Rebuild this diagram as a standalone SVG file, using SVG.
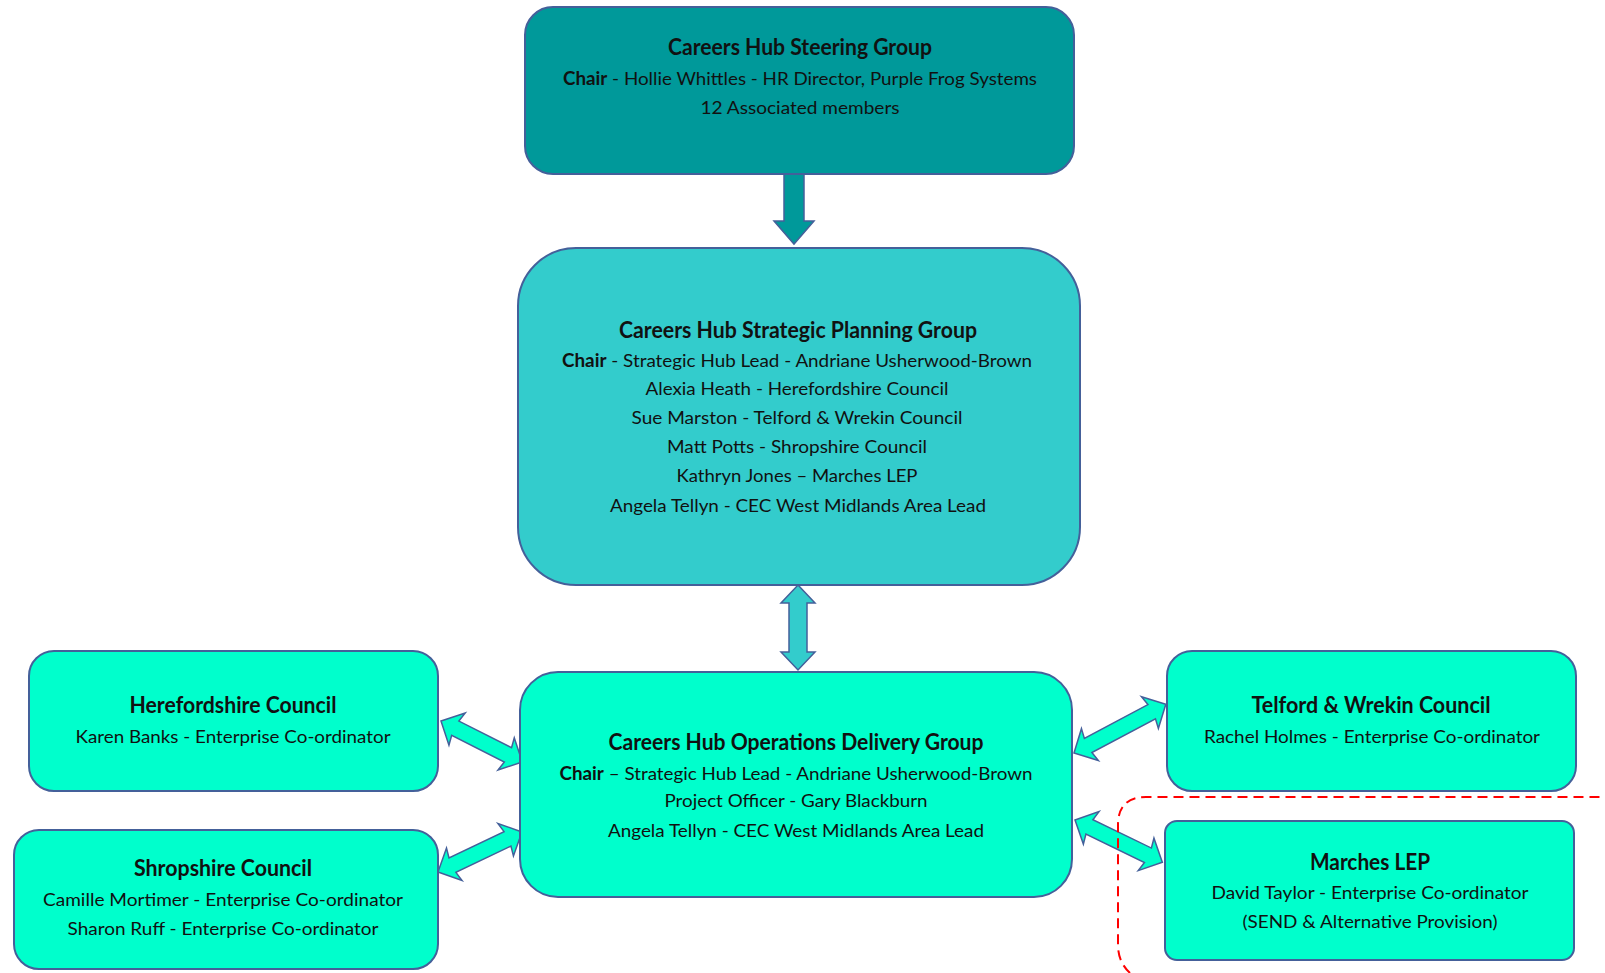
<svg xmlns="http://www.w3.org/2000/svg" width="1605" height="973" viewBox="0 0 1605 973">
<style>
.box{stroke:#44609A;stroke-width:2}
.dark{fill:#00999A}
.mid{fill:#33CCCC}
.light{fill:#00FFCC}
.t{font-family:Lato,"Liberation Sans",sans-serif;font-weight:bold;font-size:23px;fill:#111;text-anchor:middle}
.s{font-family:Lato,"Liberation Sans",sans-serif;font-size:18px;fill:#111;text-anchor:middle}
.b{font-weight:bold}
.arr{stroke:#44609A;stroke-width:1.5;stroke-linejoin:miter}
</style>
<rect width="1605" height="973" fill="#ffffff"/>
<g id="connectors">
<polygon class="arr dark" points="784,174 804,174 804,221 814,221 794,244 774,221 784,221"/>
<polygon class="arr mid" points="798,585 815,603 807,603 807,652 815,652 798,670 781,652 789,652 789,603 781,603"/>
<g transform="translate(441,721) rotate(26.8)">
<polygon class="arr light" points="0,0 18,-18 16,-8 75,-8 73,-18 91,0 73,18 75,8 16,8 18,18"/>
</g>
<g transform="translate(438,872) rotate(-25.5)">
<polygon class="arr light" points="0,0 18,-18 16,-8 77,-8 75,-18 93,0 75,18 77,8 16,8 18,18"/>
</g>
<g transform="translate(1074,753) rotate(-28)">
<polygon class="arr light" points="0,0 18,-18 16,-8 88,-8 86,-18 104,0 86,18 88,8 16,8 18,18"/>
</g>
<g transform="translate(1075,820) rotate(25.8)">
<polygon class="arr light" points="0,0 18,-18 16,-8 81,-8 79,-18 97,0 79,18 81,8 16,8 18,18"/>
</g>
</g>
<g id="steering">
<rect class="box dark" x="525" y="7" width="549" height="167" rx="28"/>
<text class="t" x="800" y="55" textLength="264" lengthAdjust="spacingAndGlyphs">Careers Hub Steering Group</text>
<text class="s" x="800" y="85" textLength="474" lengthAdjust="spacingAndGlyphs"><tspan class="b">Chair</tspan> - Hollie Whittles - HR Director, Purple Frog Systems</text>
<text class="s" x="800" y="114" textLength="199" lengthAdjust="spacingAndGlyphs">12 Associated members</text>
</g>
<g id="strategic">
<rect class="box mid" x="518" y="248" width="562" height="337" rx="58"/>
<text class="t" x="798" y="338" textLength="358" lengthAdjust="spacingAndGlyphs">Careers Hub Strategic Planning Group</text>
<text class="s" x="797" y="367" textLength="470" lengthAdjust="spacingAndGlyphs"><tspan class="b">Chair</tspan> - Strategic Hub Lead - Andriane Usherwood-Brown</text>
<text class="s" x="797" y="395" textLength="303" lengthAdjust="spacingAndGlyphs">Alexia Heath - Herefordshire Council</text>
<text class="s" x="797" y="424" textLength="331" lengthAdjust="spacingAndGlyphs">Sue Marston - Telford &amp; Wrekin Council</text>
<text class="s" x="797" y="453" textLength="260" lengthAdjust="spacingAndGlyphs">Matt Potts - Shropshire Council</text>
<text class="s" x="797" y="482" textLength="241" lengthAdjust="spacingAndGlyphs">Kathryn Jones – Marches LEP</text>
<text class="s" x="798" y="512" textLength="376" lengthAdjust="spacingAndGlyphs">Angela Tellyn - CEC West Midlands Area Lead</text>
</g>
<g id="operations">
<rect class="box light" x="520" y="672" width="552" height="225" rx="38"/>
<text class="t" x="796" y="750" textLength="375" lengthAdjust="spacingAndGlyphs">Careers Hub Operations Delivery Group</text>
<text class="s" x="796" y="780" textLength="473" lengthAdjust="spacingAndGlyphs"><tspan class="b">Chair</tspan> – Strategic Hub Lead - Andriane Usherwood-Brown</text>
<text class="s" x="796" y="807" textLength="263" lengthAdjust="spacingAndGlyphs">Project Officer - Gary Blackburn</text>
<text class="s" x="796" y="837" textLength="376" lengthAdjust="spacingAndGlyphs">Angela Tellyn - CEC West Midlands Area Lead</text>
</g>
<g id="herefordshire">
<rect class="box light" x="29" y="651" width="409" height="140" rx="25"/>
<text class="t" x="233" y="713" textLength="207" lengthAdjust="spacingAndGlyphs">Herefordshire Council</text>
<text class="s" x="233" y="743" textLength="315" lengthAdjust="spacingAndGlyphs">Karen Banks - Enterprise Co-ordinator</text>
</g>
<g id="shropshire">
<rect class="box light" x="14" y="830" width="424" height="139" rx="25"/>
<text class="t" x="223" y="876" textLength="178" lengthAdjust="spacingAndGlyphs">Shropshire Council</text>
<text class="s" x="223" y="906" textLength="360" lengthAdjust="spacingAndGlyphs">Camille Mortimer - Enterprise Co-ordinator</text>
<text class="s" x="223" y="935" textLength="311" lengthAdjust="spacingAndGlyphs">Sharon Ruff - Enterprise Co-ordinator</text>
</g>
<g id="telford">
<rect class="box light" x="1167" y="651" width="409" height="140" rx="25"/>
<text class="t" x="1371" y="713" textLength="239" lengthAdjust="spacingAndGlyphs">Telford &amp; Wrekin Council</text>
<text class="s" x="1372" y="743" textLength="336" lengthAdjust="spacingAndGlyphs">Rachel Holmes - Enterprise Co-ordinator</text>
</g>
<g id="marches">
<path d="M1130,973 Q1118,962 1118,945 L1118,825 Q1118,797 1146,797 L1605,797" fill="none" stroke="#FF0000" stroke-width="2" stroke-dasharray="10,6"/>
<rect class="box light" x="1165" y="821" width="409" height="139" rx="12"/>
<text class="t" x="1370" y="870" textLength="120" lengthAdjust="spacingAndGlyphs">Marches LEP</text>
<text class="s" x="1370" y="899" textLength="317" lengthAdjust="spacingAndGlyphs">David Taylor - Enterprise Co-ordinator</text>
<text class="s" x="1370" y="928" textLength="255" lengthAdjust="spacingAndGlyphs">(SEND &amp; Alternative Provision)</text>
</g>
</svg>
